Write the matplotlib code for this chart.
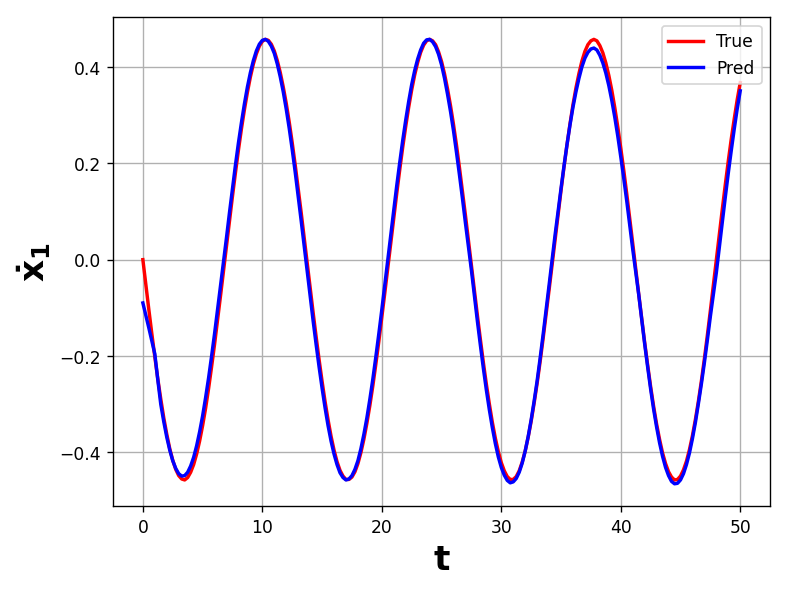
import numpy as np
import matplotlib
matplotlib.use("Agg")
import matplotlib.pyplot as plt

t = np.linspace(0, 50, 201)

true_vals = [
    0.000, -0.052, -0.104, -0.154, -0.202, -0.248, -0.290, -0.329, -0.363, -0.393,
    -0.417, -0.436, -0.449, -0.456, -0.458, -0.453, -0.442, -0.426, -0.404, -0.377,
    -0.345, -0.309, -0.268, -0.223, -0.176, -0.126, -0.075, -0.023, 0.029, 0.081,
    0.132, 0.181, 0.228, 0.272, 0.312, 0.348, 0.380, 0.407, 0.428, 0.444,
    0.454, 0.458, 0.456, 0.448, 0.434, 0.414, 0.389, 0.359, 0.325, 0.286,
    0.243, 0.197, 0.148, 0.098, 0.046, -0.007, -0.059, -0.110, -0.160, -0.208,
    -0.253, -0.295, -0.333, -0.367, -0.396, -0.420, -0.438, -0.450, -0.457, -0.457,
    -0.452, -0.441, -0.424, -0.401, -0.373, -0.340, -0.303, -0.262, -0.217, -0.170,
    -0.120, -0.069, -0.017, 0.035, 0.087, 0.138, 0.187, 0.234, 0.277, 0.317,
    0.353, 0.384, 0.410, 0.431, 0.446, 0.455, 0.458, 0.455, 0.447, 0.432,
    0.412, 0.386, 0.355, 0.320, 0.281, 0.238, 0.191, 0.142, 0.092, 0.040,
    -0.012, -0.064, -0.116, -0.166, -0.214, -0.259, -0.300, -0.338, -0.371, -0.399,
    -0.422, -0.439, -0.451, -0.457, -0.457, -0.451, -0.439, -0.421, -0.398, -0.369,
    -0.336, -0.298, -0.257, -0.212, -0.164, -0.114, -0.063, -0.011, 0.042, 0.094,
    0.144, 0.193, 0.239, 0.282, 0.322, 0.357, 0.387, 0.413, 0.433, 0.447,
    0.455, 0.458, 0.455, 0.445, 0.430, 0.409, 0.383, 0.352, 0.316, 0.276,
    0.232, 0.186, 0.137, 0.086, 0.034, -0.019, -0.071, -0.122, -0.172, -0.219,
    -0.264, -0.305, -0.342, -0.374, -0.402, -0.424, -0.441, -0.452, -0.458, -0.457,
    -0.450, -0.437, -0.419, -0.395, -0.366, -0.332, -0.294, -0.252, -0.206, -0.157,
    -0.106, -0.053, 0.000, 0.053, 0.105, 0.156, 0.205, 0.251, 0.293, 0.333,
    0.368,
]

pred_vals = [
    -0.090, -0.116, -0.142, -0.169, -0.196, -0.250, -0.301, -0.337, -0.369, -0.396,
    -0.418, -0.434, -0.445, -0.450, -0.449, -0.442, -0.429, -0.411, -0.387, -0.358,
    -0.325, -0.287, -0.246, -0.201, -0.154, -0.104, -0.053, -0.004, 0.046, 0.098,
    0.148, 0.197, 0.243, 0.285, 0.324, 0.359, 0.389, 0.414, 0.434, 0.448,
    0.456, 0.458, 0.454, 0.444, 0.429, 0.407, 0.380, 0.349, 0.313, 0.273,
    0.229, 0.182, 0.132, 0.081, 0.029, -0.024, -0.076, -0.127, -0.176, -0.223,
    -0.267, -0.308, -0.345, -0.377, -0.404, -0.426, -0.443, -0.453, -0.458, -0.456,
    -0.449, -0.436, -0.418, -0.393, -0.363, -0.329, -0.290, -0.248, -0.202, -0.154,
    -0.104, -0.052, 0.000, 0.052, 0.103, 0.154, 0.202, 0.248, 0.290, 0.329,
    0.364, 0.393, 0.417, 0.436, 0.450, 0.457, 0.458, 0.453, 0.443, 0.427,
    0.405, 0.377, 0.344, 0.308, 0.268, 0.223, 0.176, 0.127, 0.076, 0.027,
    -0.022, -0.075, -0.128, -0.178, -0.226, -0.271, -0.312, -0.349, -0.382, -0.410,
    -0.432, -0.448, -0.459, -0.464, -0.462, -0.455, -0.442, -0.423, -0.398, -0.368,
    -0.333, -0.294, -0.252, -0.205, -0.156, -0.105, -0.053, -0.001, 0.051, 0.100,
    0.148, 0.195, 0.239, 0.280, 0.317, 0.349, 0.377, 0.401, 0.419, 0.431,
    0.438, 0.440, 0.436, 0.425, 0.409, 0.388, 0.362, 0.331, 0.296, 0.257,
    0.214, 0.169, 0.122, 0.072, 0.022, -0.025, -0.072, -0.124, -0.175, -0.223,
    -0.269, -0.311, -0.348, -0.381, -0.409, -0.432, -0.449, -0.461, -0.466, -0.465,
    -0.458, -0.445, -0.426, -0.402, -0.372, -0.338, -0.299, -0.258, -0.214, -0.167,
    -0.118, -0.073, -0.027, 0.026, 0.078, 0.130, 0.180, 0.227, 0.272, 0.314,
    0.351,
]

fig = plt.figure(figsize=(6.4, 4.8), dpi=123.3)
ax = fig.add_axes([0.1432, 0.1436, 0.9759 - 0.1432, 0.9696 - 0.1436])
ax.plot(t, true_vals, color='red', lw=2, label='True')
ax.plot(t, pred_vals, color='blue', lw=2, label='Pred')
ax.set_xlabel('t', fontsize=20, fontweight='bold')
ax.set_ylabel(r'$\mathbf{\dot{x}_1}$', fontsize=20, fontweight='bold')
ax.grid(True)
ax.legend(loc='upper right')
fig.savefig('out.png', dpi=123.3)
